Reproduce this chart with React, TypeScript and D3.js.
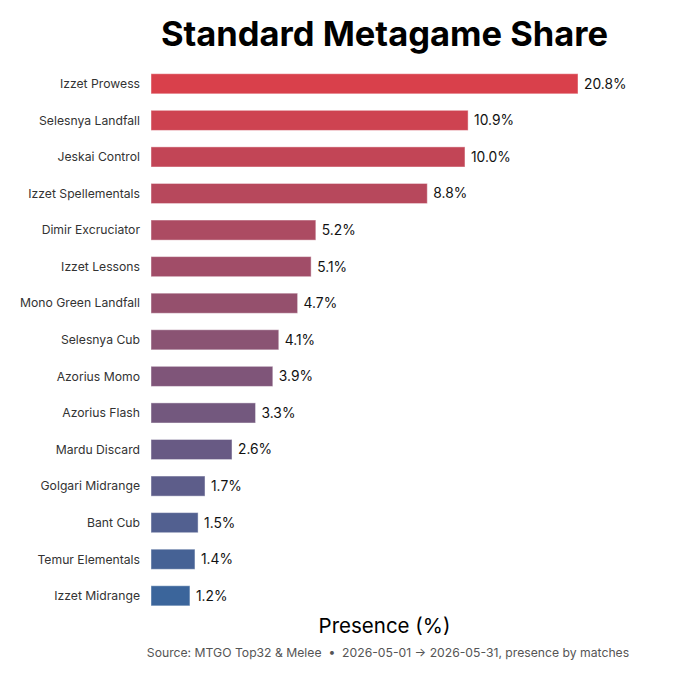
import React, { useEffect, useRef } from 'react';
import * as d3 from 'd3';

// archetypes, top to bottom
const archetypes = [
  'Izzet Prowess',
  'Selesnya Landfall',
  'Jeskai Control',
  'Izzet Spellementals',
  'Dimir Excruciator',
  'Izzet Lessons',
  'Mono Green Landfall',
  'Selesnya Cub',
  'Azorius Momo',
  'Azorius Flash',
  'Mardu Discard',
  'Golgari Midrange',
  'Bant Cub',
  'Temur Elementals',
  'Izzet Midrange',
];

// printed share (%)
const shareLabels = [20.8, 10.9, 10.0, 8.8, 5.2, 5.1, 4.7, 4.1, 3.9, 3.3, 2.6, 1.7, 1.5, 1.4, 1.2];

// bar lengths as drawn (in % units)
const barValues = [13.6, 10.1, 10.0, 8.8, 5.25, 5.1, 4.67, 4.07, 3.88, 3.33, 2.58, 1.72, 1.5, 1.4, 1.24];

const W = 680;
const H = 680;
const FONT = 'Inter, "Noto Sans", sans-serif';

export default function App() {
  const svgRef = useRef<SVGSVGElement>(null);

  useEffect(() => {
    document.body.style.margin = '0';
    if (!svgRef.current) return;
    const svg = d3.select(svgRef.current);
    svg.selectAll('*').remove();

    const left = 151;
    const top = 65.5;
    const bottom = 614.1;

    const x = d3.scaleLinear()
      .domain([0, d3.max(barValues) as number])
      .range([left, 578]);

    const y = d3.scaleBand<string>()
      .domain(archetypes)
      .range([top, bottom])
      .paddingInner(0.45)
      .paddingOuter(0.225);

    const color = d3.scaleLinear<string>()
      .domain([0, archetypes.length - 1])
      .range(['#d9404b', '#3b659b'])
      .interpolate(d3.interpolateRgb);

    // title
    svg.append('text')
      .attr('x', 384.5)
      .attr('y', 46)
      .attr('text-anchor', 'middle')
      .attr('font-family', FONT)
      .attr('font-weight', 700)
      .attr('font-size', 34.5)
      .attr('fill', '#000')
      .text('Standard Metagame Share');

    const rows = svg.append('g').selectAll('g')
      .data(archetypes)
      .join('g');

    rows.append('rect')
      .attr('x', x(0))
      .attr('y', d => y(d) as number)
      .attr('width', (d, i) => x(barValues[i]) - x(0))
      .attr('height', y.bandwidth())
      .attr('fill', (d, i) => color(i))
      .attr('stroke', '#ffffff')
      .attr('stroke-opacity', 0.45)
      .attr('stroke-width', 1);

    // category labels
    rows.append('text')
      .attr('x', 140)
      .attr('y', d => (y(d) as number) + y.bandwidth() / 2)
      .attr('dy', '0.35em')
      .attr('text-anchor', 'end')
      .attr('font-family', FONT)
      .attr('font-size', 12.2)
      .attr('fill', '#333')
      .text(d => d);

    // value labels
    rows.append('text')
      .attr('x', (d, i) => x(barValues[i]) + 6)
      .attr('y', d => (y(d) as number) + y.bandwidth() / 2)
      .attr('dy', '0.36em')
      .attr('font-family', FONT)
      .attr('font-size', 13.8)
      .attr('fill', '#111')
      .text((d, i) => `${shareLabels[i].toFixed(1)}%`);

    // axis title
    svg.append('text')
      .attr('x', 384.5)
      .attr('y', 633)
      .attr('text-anchor', 'middle')
      .attr('font-family', FONT)
      .attr('font-size', 20.5)
      .attr('fill', '#000')
      .text('Presence (%)');

    // source note
    svg.append('text')
      .attr('x', 388)
      .attr('y', 657)
      .attr('text-anchor', 'middle')
      .attr('font-family', FONT)
      .attr('font-size', 12.2)
      .attr('fill', '#555')
      .style('white-space', 'pre')
      .text('Source: MTGO Top32 & Melee  \u2022  2026-05-01 \u2192 2026-05-31, presence by matches');
  }, []);

  return (
    <div style={{ width: W, height: H, background: '#fff' }}>
      <svg ref={svgRef} width={W} height={H} style={{ display: 'block' }} />
    </div>
  );
}
